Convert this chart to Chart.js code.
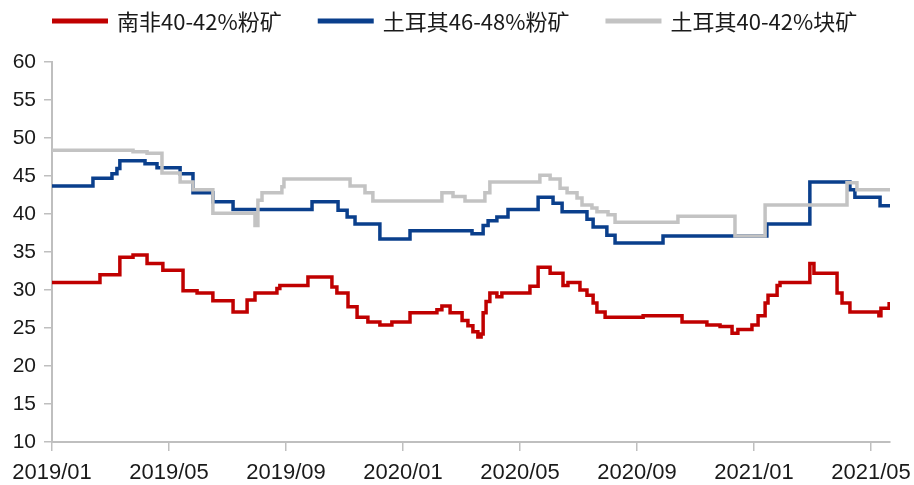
<!DOCTYPE html>
<html>
<head>
<meta charset="utf-8">
<script src="https://cdn.jsdelivr.net/npm/chart.js@4.4.1/dist/chart.umd.min.js"></script>
<style>
  html, body { margin: 0; padding: 0; background: #fff; }
</style>
</head>
<body>
<canvas id="chart" width="914" height="485"></canvas>
<script>
// series names as shown in the legend
const seriesNames = ["南非40-42%粉矿", "土耳其46-48%粉矿", "土耳其40-42%块矿"];

// x = months since 2019/01, each point is where a new price level starts
const redX = [0, 1.64, 2.32, 2.77, 3.25, 3.79, 4.48, 4.96, 5.5, 6.19, 6.67, 6.94, 7.69, 7.79, 8.75, 9.57, 9.74, 10.12, 10.43, 10.8,
  11.21, 11.62, 12.24, 13.16, 13.33, 13.61, 14.02, 14.22, 14.39, 14.56, 14.67, 14.74, 14.84, 14.97, 15.21, 15.38, 16.34, 16.62, 17.03, 17.47,
  17.64, 18.05, 18.29, 18.5, 18.63, 18.91, 20.21, 21.54, 22.39, 22.84, 23.25, 23.45, 23.93, 24.14, 24.38, 24.48, 24.79, 24.89, 25.91, 26.05,
  26.84, 27.01, 27.28, 28.27, 28.34, 28.62, 28.65];
const redY = [31, 32, 34.3, 34.6, 33.5, 32.6, 29.9, 29.6, 28.6, 27.1, 28.7, 29.6, 30.2, 30.6, 31.7, 30.4, 29.6, 27.8, 26.4, 25.8,
  25.4, 25.8, 27, 27.4, 27.9, 27, 26, 25.3, 24.5, 23.8, 24.2, 27, 28.5, 29.6, 29.1, 29.6, 30.5, 33, 32.2, 30.6,
  31, 30, 29.3, 28.3, 27.1, 26.4, 26.6, 25.8, 25.4, 25.2, 24.3, 24.8, 25.4, 26.6, 28.3, 29.3, 30.6, 31, 33.5, 32.2,
  29.6, 28.3, 27.1, 26.6, 27.6, 28.2, 28.2];

const blueX = [0, 1.4, 2.05, 2.22, 2.32, 3.18, 3.59, 4.38, 4.82, 5.5, 6.19, 8.89, 9.78, 10.09, 10.36, 11.21, 12.24, 14.36,
  14.74, 14.91, 15.21, 15.59, 16.62, 17.13, 17.44, 18.29, 18.5, 18.97, 19.25, 20.89, 24.44, 25.91, 27.28, 27.45, 28.31, 28.65];
const blueY = [43.7, 44.7, 45.3, 46, 47, 46.6, 46.1, 45.3, 42.8, 41.6, 40.6, 41.6, 40.5, 39.6, 38.7, 36.7, 37.8, 37.4,
  38.5, 39.1, 39.6, 40.6, 42.2, 41.4, 40.3, 39.3, 38.3, 37.2, 36.2, 37.1, 38.7, 44.2, 43.2, 42.2, 41.1, 41.1];

const grayX = [0, 2.77, 3.25, 3.76, 4.38, 4.82, 5.5, 6.94, 7.04, 7.18, 7.86, 7.93, 10.19, 10.7, 10.97, 13.33, 13.71, 14.12,
  14.8, 14.97, 16.68, 17.03, 17.37, 17.61, 17.95, 18.12, 18.46, 18.63, 19.01, 19.25, 21.4, 23.35, 24.38, 27.18, 27.52, 28.65];
const grayY = [48.4, 48.2, 48, 45.4, 44.2, 43.2, 40.1, 38.5, 41.8, 42.8, 43.6, 44.6, 43.7, 42.8, 41.7, 42.8, 42.3, 41.7,
  42.8, 44.2, 45.1, 44.6, 43.4, 42.8, 42.1, 41.2, 40.8, 40.3, 39.9, 38.9, 39.7, 37.1, 41.2, 44.1, 43.2, 43.2];

const tickMonths = [0, 4, 8, 12, 16, 20, 24, 28];
const tickLabels = ["2019/01", "2019/05", "2019/09", "2020/01", "2020/05", "2020/09", "2021/01", "2021/05"];

const axisGray = "#BFBFBF";
const textColor = "#1a1a1a";

function toPoints(xs, ys) {
  return xs.map((x, i) => ({ x, y: ys[i] }));
}

function makeSeries(label, xs, ys, color, order) {
  return {
    label,
    data: toPoints(xs, ys),
    borderColor: color,
    backgroundColor: color,
    borderWidth: 3.5,
    stepped: true,
    pointRadius: 0,
    order,
  };
}

// legend with short line samples, spaced like the original
const lineLegend = {
  id: "lineLegend",
  afterDraw(chart, _args, opts) {
    const { ctx } = chart;
    ctx.save();
    ctx.font = `${opts.size}px ${opts.family}`;
    ctx.textBaseline = "middle";
    let x = opts.x;
    for (const ds of chart.data.datasets) {
      ctx.strokeStyle = ds.borderColor;
      ctx.lineWidth = opts.thickness;
      ctx.beginPath();
      ctx.moveTo(x, opts.y);
      ctx.lineTo(x + opts.lineLength, opts.y);
      ctx.stroke();
      x += opts.lineLength + opts.textGap;
      ctx.fillStyle = opts.color;
      ctx.fillText(ds.label, x, opts.y + 1);
      x += ctx.measureText(ds.label).width + opts.itemGap;
    }
    ctx.restore();
  },
};

new Chart(document.getElementById("chart"), {
  type: "line",
  data: {
    datasets: [
      makeSeries(seriesNames[0], redX, redY, "#C00000", 2),
      makeSeries(seriesNames[1], blueX, blueY, "#0A3F8C", 1),
      makeSeries(seriesNames[2], grayX, grayY, "#C3C3C3", 0),
    ],
  },
  options: {
    responsive: false,
    animation: false,
    layout: { padding: { left: 0, right: 0, top: 62, bottom: 0 } },
    plugins: {
      legend: { display: false },
      tooltip: { enabled: false },
      lineLegend: {
        x: 52,
        y: 21,
        size: 22,
        family: "Noto Sans CJK SC",
        color: textColor,
        lineLength: 56,
        thickness: 5,
        textGap: 9,
        itemGap: 36,
      },
    },
    scales: {
      x: {
        type: "linear",
        min: 0,
        max: 28.65,
        afterBuildTicks: (axis) => {
          axis.ticks = tickMonths.map((v) => ({ value: v }));
        },
        afterFit: (axis) => {
          axis.height = 43;
          axis.paddingLeft = 0;
          axis.paddingRight = 24;
        },
        ticks: {
          autoSkip: false,
          maxRotation: 0,
          padding: 9,
          color: textColor,
          font: { family: "Liberation Sans", size: 22 },
          callback: (value) => tickLabels[tickMonths.indexOf(value)],
        },
        grid: { drawOnChartArea: false, tickLength: 9, color: axisGray, lineWidth: 1.5 },
        border: { color: axisGray, width: 2 },
      },
      y: {
        min: 10,
        max: 60,
        afterFit: (axis) => {
          axis.width = 52;
        },
        ticks: { stepSize: 5, padding: 8, color: textColor, font: { family: "Liberation Sans", size: 21 } },
        grid: { drawOnChartArea: false, tickLength: 8, color: axisGray, lineWidth: 1.5 },
        border: { color: axisGray, width: 2 },
      },
    },
  },
  plugins: [lineLegend],
});
</script>
</body>
</html>
